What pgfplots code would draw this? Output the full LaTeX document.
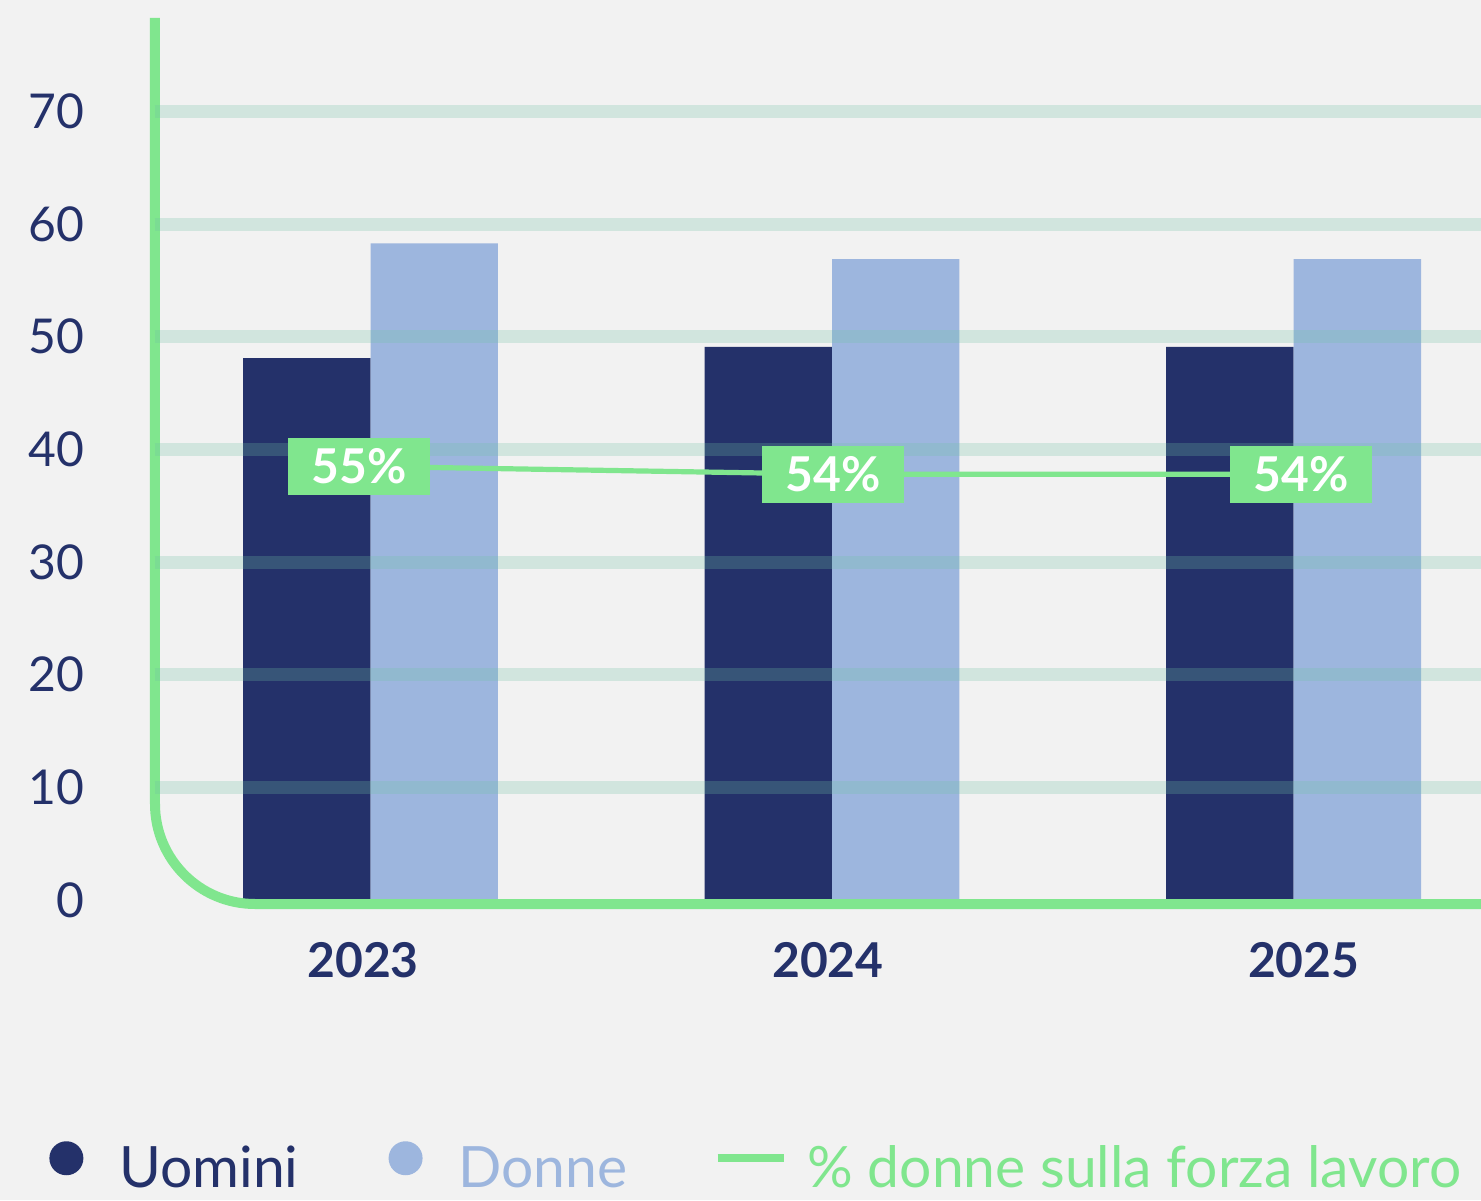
\documentclass[border=0pt]{standalone}
\usepackage{pgfplots}
\pgfplotsset{compat=1.18}
\usepackage{fontspec}
\setmainfont{Lato}

\definecolor{bg}{RGB}{242,242,242}
\definecolor{navy}{RGB}{36,49,106}
\definecolor{lblue}{RGB}{157,182,222}
\definecolor{lgreen}{RGB}{128,230,142}
\definecolor{gridc}{RGB}{112,194,164}

\begin{document}
\begin{tikzpicture}
\fill[bg] (0,0) rectangle (740.5pt,600pt);
\begin{axis}[
  at={(77.5pt,148pt)}, anchor=south west,
  scale only axis, width=663pt, height=443pt,
  xmin=-0.467, xmax=2.406, ymin=-0.36, ymax=78.3,
  clip=false,
  axis x line*=bottom, axis y line*=left,
  axis line style={draw=none}, tick style={draw=none},
  axis on top,
  /pgf/number format/assume math mode=true,
  xtick={-0.016,0.991,2.022}, xticklabels={2023,2024,2025},
  ytick={10,20,...,70},
  extra y ticks={0}, extra y tick style={grid=none},
  ymajorgrids,
  major grid style={line width=6.5pt, color=gridc, opacity=0.25},
  yticklabel style={font=\fontsize{24}{24}\selectfont, text=navy, anchor=east, inner sep=0pt, xshift=-35pt},
  xticklabel style={font=\bfseries\fontsize{24}{24}\selectfont, text=navy, anchor=north, inner sep=0pt, yshift=-18.8pt},
  legend style={at={(-0.0875,-0.2957)}, anchor=west, draw=none, fill=none,
    font=\fontsize{28.5}{28.5}\selectfont, nodes={inner sep=0pt},
    /tikz/every odd column/.style={column sep=10pt},
    /tikz/every even column/.style={column sep=43pt}},
  legend columns=3,
]
% Uomini
\addplot[ybar, bar width=0.276, bar shift=-0.138, fill=navy, draw=none,
  legend image code/.code={\fill[navy, draw=none] (8.5pt,5pt) circle (8.5pt);
    \path[draw=none, fill=none] (-2pt,0pt) rectangle (25pt,10pt);}]
  coordinates {(0,48.1) (1,49.1) (2,49.1)};
\addlegendentry{\textcolor{navy}{Uomini}}
% Donne
\addplot[ybar, bar width=0.276, bar shift=0.138, fill=lblue, draw=none,
  legend image code/.code={\fill[lblue, draw=none] (8.5pt,5pt) circle (8.5pt);
    \path[draw=none, fill=none] (-2pt,0pt) rectangle (25pt,10pt);}]
  coordinates {(0,58.3) (1,56.9) (2,56.9)};
\addlegendentry{\textcolor{lblue}{Donne}}
% % donne sulla forza lavoro (plotted at 0.7 x percentage)
\addplot[sharp plot, lgreen, line width=2.6pt, mark=none,
  nodes near coords, point meta=explicit symbolic,
  every node near coord/.append style={anchor=center, fill=lgreen, text=white,
    font=\bfseries\fontsize{24}{24}\selectfont, minimum width=71pt, minimum height=28.5pt, inner sep=0pt},
  legend image code/.code={\draw[lgreen, line width=4pt] (0pt,5pt) -- (33pt,5pt);}]
  coordinates {(-0.025,38.5) [55\%] (1.003,37.8) [54\%] (2.016,37.8) [54\%]};
\addlegendentry{\textcolor{lgreen}{\% donne sulla forza lavoro}}
\draw[lgreen, line width=5pt, rounded corners=50pt]
  (rel axis cs:0,1) -- (rel axis cs:0,0) -- (rel axis cs:1.02,0);
\end{axis}
\pgfresetboundingbox
\path (0,0) rectangle (740.5pt,600pt);
\end{tikzpicture}
\end{document}
